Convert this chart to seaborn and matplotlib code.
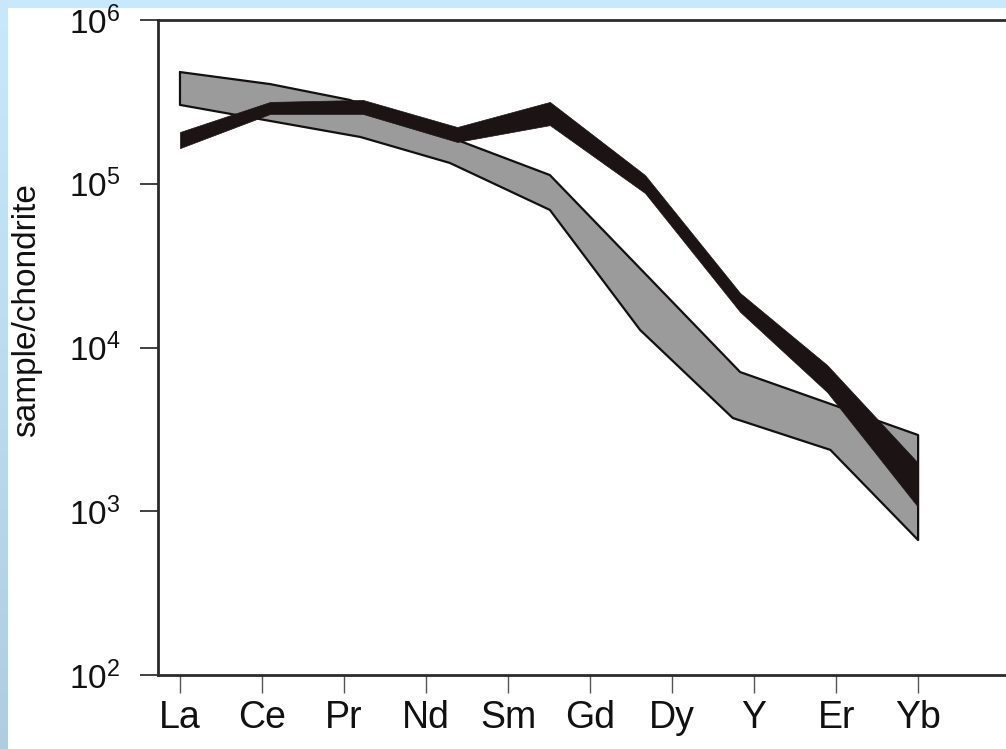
import matplotlib
matplotlib.use("Agg")
import matplotlib.pyplot as plt
import numpy as np
import pandas as pd
import seaborn as sns
from matplotlib.colors import LinearSegmentedColormap
from matplotlib.ticker import NullLocator, FixedLocator, LogFormatterMathtext

# --------------------------------------------
# Data (x = position along the element axis)
# --------------------------------------------
elements = ['La', 'Ce', 'Pr', 'Nd', 'Sm', 'Gd', 'Dy', 'Y', 'Er', 'Yb']

# grey field: upper and lower envelope
grey_upper_x = [0.0, 1.10, 2.07, 3.38, 4.51, 6.83, 7.90, 9.0]
grey_upper_y = [4.81e5, 4.06e5, 3.25e5, 1.85e5, 1.13e5, 7.08e3, 4.58e3, 2.92e3]
grey_lower_x = [0.0, 2.20, 3.29, 4.51, 5.61, 6.74, 7.93, 9.0]
grey_lower_y = [3.03e5, 1.93e5, 1.34e5, 6.92e4, 1.28e4, 3.71e3, 2.37e3, 6.67e2]

# black band: upper and lower edge
black_x = [0.0, 1.10, 2.23, 3.38, 4.51, 5.67, 6.83, 7.89, 9.0]
black_upper = [2.07e5, 3.16e5, 3.25e5, 2.22e5, 3.16e5, 1.13e5, 2.15e4, 7.82e3, 1.97e3]
black_lower = [1.65e5, 2.67e5, 2.67e5, 1.80e5, 2.28e5, 8.78e4, 1.65e4, 5.35e3, 1.06e3]

yticks = [1e2, 1e3, 1e4, 1e5, 1e6]

# --------------------------------------------
# Style
# --------------------------------------------
sns.set_theme(style='ticks')
plt.rcParams['font.family'] = ['Liberation Sans', 'DejaVu Sans']
plt.rcParams['mathtext.default'] = 'regular'

fig = plt.figure(figsize=(10.06, 7.49), dpi=100)
fig.patch.set_facecolor('white')

# light blue frame strips (top and left)
top = fig.add_axes([0, 1 - 8 / 749, 1, 8 / 749])
top.set_axis_off()
top.add_patch(plt.Rectangle((0, 0), 1, 1, transform=top.transAxes, color='#c8e9fb'))
left = fig.add_axes([0, 0, 8 / 1006, 1])
grad = np.linspace(0, 1, 256).reshape(-1, 1)
cmap = LinearSegmentedColormap.from_list('strip', ['#c8e9fb', '#aecde1'])
left.imshow(grad, aspect='auto', cmap=cmap, extent=[0, 1, 0, 1], origin='upper')
left.set_axis_off()

# main axes - the right spine runs past the image edge
ax = fig.add_axes([158 / 1006, 74 / 749, 902 / 1006, 655 / 749])
ax.set_facecolor('white')
ax.set_yscale('log')
ax.set_ylim(1e2, 1e6)
ax.set_xlim(-0.268, 10.73)

# grey field
poly_x = grey_upper_x + grey_lower_x[::-1] + [grey_upper_x[0]]
poly_y = grey_upper_y + grey_lower_y[::-1] + [grey_upper_y[0]]
ax.fill(poly_x, poly_y, facecolor='#9b9b9b', edgecolor='none', zorder=2)
outline = pd.DataFrame({'x': poly_x, 'y': poly_y})
sns.lineplot(data=outline, x='x', y='y', sort=False, color='#151010',
             linewidth=1.6, ax=ax, zorder=3, estimator=None)

# black band
ax.fill_between(black_x, black_lower, black_upper, color='#1c1414',
                linewidth=0.5, edgecolor='#1c1414', zorder=4)

# axes formatting
ax.set_xticks(range(len(elements)))
ax.set_xticklabels(elements, fontsize=27, color='#111111')
ax.yaxis.set_major_locator(FixedLocator(yticks))
ax.yaxis.set_minor_locator(NullLocator())
ax.yaxis.set_major_formatter(LogFormatterMathtext())
ax.tick_params(axis='y', labelsize=24, length=13, width=1.3, pad=14,
               colors='#333333', labelcolor='#111111')
ax.tick_params(axis='x', length=13, width=1.0, pad=5, colors='#555555',
               labelcolor='#111111')
ax.set_xlabel('')
ax.set_ylabel('sample/chondrite', fontsize=24, color='#111111')
ax.yaxis.set_label_coords(-0.128, 0.557)

for side in ['left', 'bottom', 'top', 'right']:
    ax.spines[side].set_visible(True)
    ax.spines[side].set_linewidth(2.0)
    ax.spines[side].set_color('#2a2a2a')

fig.savefig('out.png', dpi=100)
